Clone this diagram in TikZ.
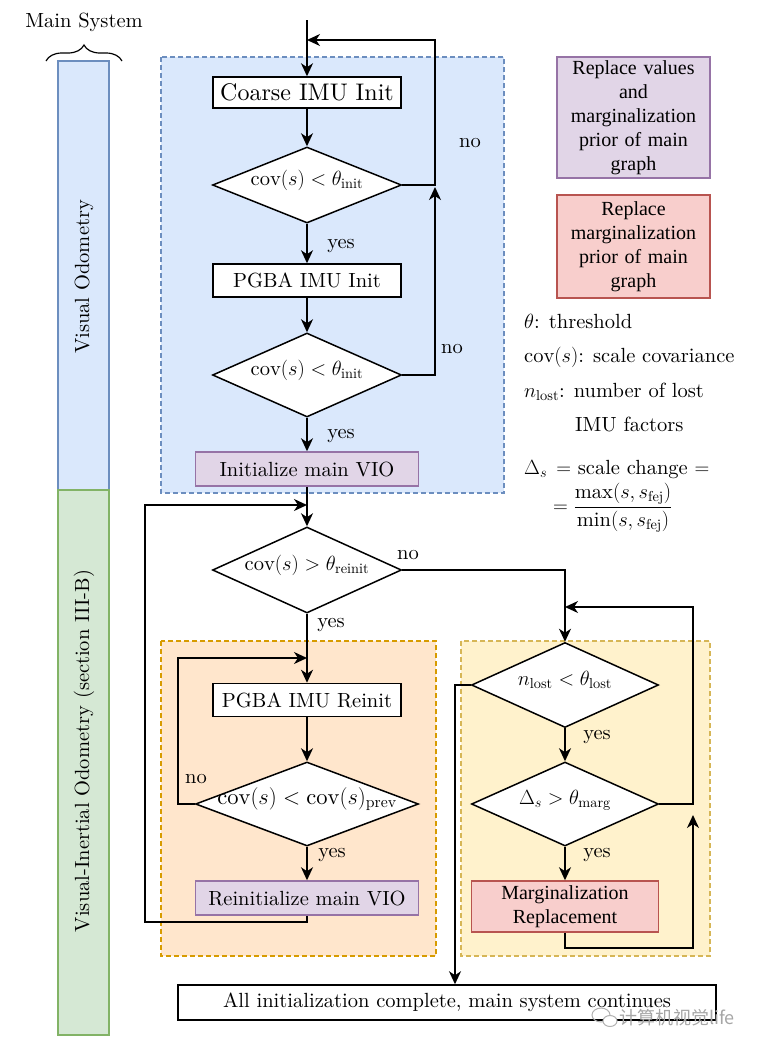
\RequirePackage{fix-cm}
\documentclass[tikz,border=0pt]{standalone}
\usepackage{fontspec}
\setmainfont{lmroman10-regular.otf}[ItalicFont=lmroman10-italic.otf, BoldFont=lmroman10-bold.otf]
\newfontfamily\timesf{Liberation Serif}
\newfontfamily\cjkf{Noto Sans CJK SC}
\usetikzlibrary{shapes.geometric,arrows.meta,decorations.pathreplacing,calc}
\definecolor{bluef}{HTML}{DAE8FC}\definecolor{blued}{HTML}{6C8EBF}
\definecolor{greenf}{HTML}{D5E8D4}\definecolor{greend}{HTML}{82B366}
\definecolor{purf}{HTML}{E1D5E7}\definecolor{purd}{HTML}{9673A6}
\definecolor{redf}{HTML}{F8CECC}\definecolor{redd}{HTML}{B85450}
\definecolor{oraf}{HTML}{FFE6CC}\definecolor{orad}{HTML}{D79B00}
\definecolor{yelf}{HTML}{FFF2CC}\definecolor{yeld}{HTML}{D6B656}
\newcommand\fsn{\fontsize{20.5}{24}\selectfont}
\newcommand\fsc{\fontsize{24}{28}\selectfont}
\newcommand\fsd{\fontsize{22.5}{26}\selectfont}
\newcommand\dtext[1]{\smash{\makebox[0pt]{#1}}}
\tikzset{
  procbox/.style={draw=black, line width=1.5pt, fill=white, inner sep=0pt, minimum width=188pt, minimum height=32pt},
  purbox/.style={draw=purd, line width=1.5pt, fill=purf, inner sep=0pt},
  redbox/.style={draw=redd, line width=1.5pt, fill=redf, inner sep=0pt},
  decis/.style={diamond, draw=black, line width=1.5pt, fill=white, inner sep=0pt},
  arr/.style={line width=1.5pt, -{Stealth[length=13pt,width=12pt,inset=4pt]}},
  ln/.style={line width=1.5pt},
  cont/.style={line width=1.3pt, dash pattern=on 5pt off 3pt},
  lbl/.style={inner sep=0pt},
}
\begin{document}
\begin{tikzpicture}[x=1pt,y=-1pt,font=\fsn]
\useasboundingbox (0,0) rectangle (761,1050);
% containers
\draw[cont, draw=blued, fill=bluef] (161,57) rectangle (504,493);
\draw[cont, draw=orad, fill=oraf] (161,641) rectangle (436,956);
\draw[cont, draw=yeld, fill=yelf] (461,641) rectangle (710,956);
% left bars
\draw[line width=1.3pt, draw=blued, fill=bluef] (58,61) rectangle (109,490);
\draw[line width=1.3pt, draw=greend, fill=greenf] (58,490) rectangle (109,1035);
\node[rotate=90, lbl] (vo) at (84,277) {Visual Odometry};
\node[rotate=90, lbl] (vio) at (84,751) {Visual-Inertial Odometry (section III-B)};
\node[lbl] (ms) at (84,22) {Main System};
\draw[line width=1.2pt, decorate, decoration={brace, amplitude=16pt}] (46,61) -- (122,61);
% nodes
\coordinate (start) at (307,20);
\node[procbox, font=\fsc, minimum height=31pt] (coarse) at (307,92.5) {Coarse IMU Init};
\node[decis, minimum width=189pt, minimum height=76pt] (d1) at (307,185) {\dtext{$\mathrm{cov}(s) < \theta_{\mathrm{init}}$}};
\node[procbox, minimum height=33pt] (pgba) at (307,280.5) {PGBA IMU Init};
\node[decis, minimum width=189pt, minimum height=84pt] (d2) at (307,375) {\dtext{$\mathrm{cov}(s) < \theta_{\mathrm{init}}$}};
\node[purbox, minimum width=223pt, minimum height=34pt] (vio1) at (307,469) {Initialize main VIO};
\node[decis, minimum width=189pt, minimum height=86pt] (d3) at (307,570) {\dtext{$\mathrm{cov}(s) > \theta_{\mathrm{reinit}}$}};
\node[procbox, minimum height=33pt] (reinit) at (307,700) {PGBA IMU Reinit};
\node[decis, minimum width=223pt, minimum height=84pt, font=\fsd] (d6) at (307,804) {\dtext{$\mathrm{cov}(s) < \mathrm{cov}(s)_{\mathrm{prev}}$}};
\node[purbox, minimum width=223pt, minimum height=34pt] (vio2) at (307,898) {Reinitialize main VIO};
\node[decis, minimum width=187pt, minimum height=85pt] (d4) at (565,685) {\dtext{$n_{\mathrm{lost}} < \theta_{\mathrm{lost}}$}};
\node[decis, minimum width=187pt, minimum height=84pt] (d5) at (565,804) {\dtext{$\Delta_s > \theta_{\mathrm{marg}}$}};
\node[redbox, minimum width=187pt, minimum height=51pt, align=center, font=\timesf\fontsize{20}{24}\selectfont] (marg) at (565,906.5) {Marginalization\\Replacement};
\node[procbox, minimum width=538pt, minimum height=35pt] (all) at (447,1002.5) {All initialization complete, main system continues};
% connectors
\draw[arr] (start) -- (coarse);
\draw[arr] (coarse) -- (d1);
\coordinate (j1) at (307,40);
\draw[arr] (d1.east) -- (435,185) -- (435,40) -- (j1);
\draw[arr] (d1) -- (pgba);
\draw[arr] (pgba) -- (d2);
\coordinate (j2) at (435,187);
\draw[arr] (d2.east) -- (435,375) -- (j2);
\draw[arr] (d2) -- (vio1);
\draw[arr] (vio1) -- (d3);
\coordinate (j3) at (307,505);
\draw[arr] (vio2.south) -- (307,922) -- (145,922) -- (145,505) -- (j3);
\draw[arr] (d3.east) -| (d4.north);
\draw[arr] (d3) -- (reinit);
\draw[arr] (reinit) -- (d6);
\coordinate (j4) at (307,658);
\draw[arr] (d6.west) -- (178,804) -- (178,658) -- (j4);
\draw[arr] (d6) -- (vio2);
\draw[arr] (d4) -- (d5);
\coordinate (j5) at (565,607);
\draw[arr] (d5.east) -- (693,804) -- (693,607) -- (j5);
\draw[arr] (d5) -- (marg);
\coordinate (j6) at (693,815);
\draw[arr] (marg.south) -- (565,948) -- (693,948) -- (j6);
\draw[arr] (d4.west) -- (455,685) -- ([xshift=8pt]all.north);
% yes/no labels
\node[lbl] (n1) at (470,143) {no};
\node[lbl] (n2) at (452,349) {no};
\node[lbl] (y1) at (341,246) {yes};
\node[lbl] (y2) at (341,436) {yes};
\node[lbl] (n3) at (408,555) {no};
\node[lbl] (y3) at (331,625) {yes};
\node[lbl] (n4) at (196,779) {no};
\node[lbl] (y4) at (332,855) {yes};
\node[lbl] (y5) at (597,737) {yes};
\node[lbl] (y6) at (597,855) {yes};
% legend boxes
\node[purbox, minimum width=153pt, minimum height=121pt, text width=150pt, align=center, font=\timesf\fontsize{20}{24}\selectfont] (leg1) at (633.5,117.5) {Replace values\\and\\marginalization\\prior of main\\graph};
\node[redbox, minimum width=153pt, minimum height=103pt, text width=150pt, align=center, font=\timesf\fontsize{20}{24}\selectfont] (leg2) at (633.5,246.5) {Replace\\marginalization\\prior of main\\graph};
% legend text
\node[lbl, anchor=base west] (t1) at (524,328) {$\theta$: threshold};
\node[lbl, anchor=base west] (t2) at (524,362) {$\mathrm{cov}(s)$: scale covariance};
\node[lbl, anchor=base west] (t3) at (524,397) {$n_{\mathrm{lost}}$: number of lost};
\node[lbl, anchor=base west] (t4) at (575,431) {IMU factors};
\node[lbl, anchor=base west] (t5) at (524,474) {$\Delta_s\,=$ scale change $=$};
\node[lbl, anchor=west] (t6) at (553,508) {$\displaystyle = \frac{\max(s, s_{\mathrm{fej}})}{\min(s, s_{\mathrm{fej}})}$};
% watermark
\draw[black!30, line width=1pt] (601,1015) ellipse [x radius=9, y radius=7];
\draw[black!30, line width=1pt, fill=white] (610,1021) ellipse [x radius=7, y radius=5.5];
\node[lbl, text=black!35, font=\cjkf\fontsize{18}{20}\selectfont] (wm) at (677,1018) {计算机视觉life};
\end{tikzpicture}
\end{document}
